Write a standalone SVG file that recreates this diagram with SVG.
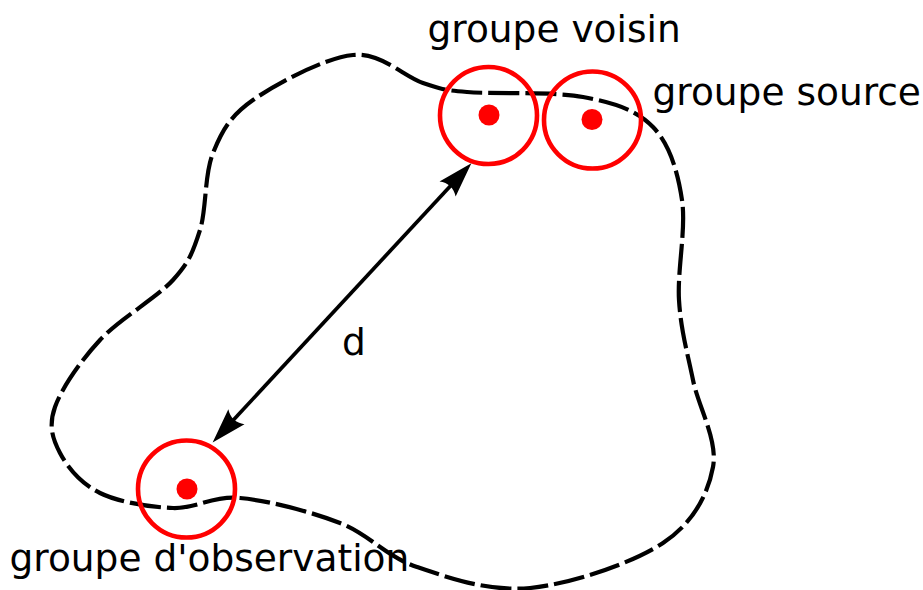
<svg xmlns="http://www.w3.org/2000/svg" width="923" height="590" viewBox="0 0 923 590">
  <style>
    .ring { fill: none; stroke: #ff0000; stroke-width: 4.6; }
    .dot { fill: #ff0000; }
    .label { font-family: "DejaVu Sans", "Liberation Sans", sans-serif; font-size: 37.5px; fill: #000000; }
    .region { fill: none; stroke: #000000; stroke-width: 4.2; stroke-dasharray: 31 6; stroke-linejoin: round; }
    .conn { fill: none; stroke: #000000; stroke-width: 3.7; }
  </style>
  <defs>
    <marker id="arrow" markerUnits="userSpaceOnUse" orient="auto-start-reverse" refX="0" refY="0" markerWidth="40" markerHeight="30" viewBox="-15 -12 40 24" overflow="visible">
      <path d="M 21,0 L -14,-11 C -9,-4 -9,4 -14,11 Z" fill="#000000"/>
    </marker>
  </defs>
  <rect width="923" height="590" fill="#ffffff"/>

  <g id="region">
    <path class="region" d="M 423,83 C 404,76.8 381.3,52.2 353,55 C 324.7,57.8 276.3,83.7 253,100 C 229.7,116.3 221.8,131.3 213,153 C 204.2,174.7 206.7,208.8 200,230 C 193.3,251.2 189.7,261.7 173,280 C 156.3,298.3 119.7,318.8 100,340 C 80.3,361.2 61.7,388.2 55,407 C 48.3,425.8 52.5,438.7 60,453 C 67.5,467.3 81.2,483.8 100,493 C 118.8,502.2 149.7,507.2 173,508 C 196.3,508.8 212.2,495.5 240,498 C 267.8,500.5 310.5,511.5 340,523 C 369.5,534.5 385.3,556.2 417,567 C 448.7,577.8 489,592 530,588 C 571,584 632.5,563.2 663,543 C 693.5,522.8 708,494.2 713,467 C 718,439.8 698.7,407.8 693,380 C 687.3,352.2 680.8,330 679,300 C 677.2,270 686.3,228.8 682,200 C 677.7,171.2 669.5,144.2 653,127 C 636.5,109.8 614,102.8 583,97 C 552,91.2 493.7,94.3 467,92 C 440.3,89.7 442,89.2 423,83 Z"/>
  </g>

  <g id="node-voisin">
    <circle class="ring" cx="488.5" cy="115.5" r="48.5"/>
    <circle class="dot" cx="489" cy="115" r="10.5"/>
    <text class="label" x="427.5" y="42">groupe voisin</text>
  </g>

  <g id="node-source">
    <circle class="ring" cx="592.5" cy="120" r="48.5"/>
    <circle class="dot" cx="592" cy="119.5" r="10.5"/>
    <text class="label" x="652.5" y="105">groupe source</text>
  </g>

  <g id="node-observation">
    <circle class="ring" cx="186.5" cy="489" r="48.5"/>
    <circle class="dot" cx="187" cy="489" r="10.5"/>
    <text class="label" x="9.5" y="571">groupe d'observation</text>
  </g>

  <g id="connectors">
    <line class="conn" x1="226.9" y1="427" x2="457.1" y2="178.7" marker-start="url(#arrow)" marker-end="url(#arrow)"/>
    <text class="label" x="342" y="355">d</text>
  </g>
</svg>
